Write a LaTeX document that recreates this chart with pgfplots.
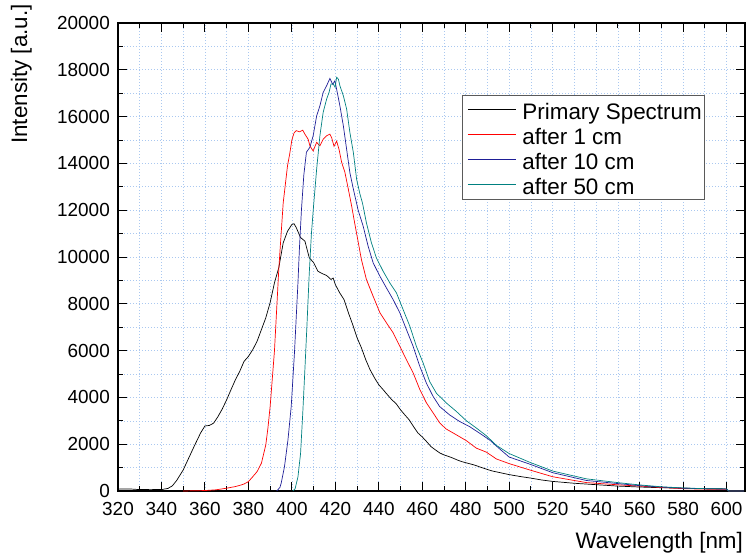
\documentclass[border=0pt]{standalone}
\usepackage{fontspec}
\setmainfont{Liberation Sans}
\usepackage{pgfplots}
\pgfplotsset{compat=1.18}
\definecolor{gridblue}{RGB}{170,200,240}
\definecolor{cred}{RGB}{255,0,0}
\definecolor{c10}{RGB}{30,30,150}
\definecolor{c50}{RGB}{0,128,128}
\definecolor{legframe}{RGB}{90,90,90}
\newcommand{\lstrut}{\rule[-5bp]{0pt}{26bp}}
\begin{document}
\begin{tikzpicture}
\begin{axis}[
 scale only axis, width=627bp, height=468bp,
 xmin=320, xmax=608.5, ymin=0, ymax=20000,
 xtick={320,340,...,600}, ytick={0,2000,...,20000},
 minor x tick num=1, minor y tick num=1,
 tick align=inside,
 major tick length=9bp, minor tick length=5bp,
 tick style={black, line width=0.9bp},
 axis line style={line width=1.3bp},
 grid=both,
 major grid style={gridblue, line width=0.6bp, dash pattern=on 1bp off 2bp},
 minor grid style={gridblue, line width=0.6bp, dash pattern=on 1bp off 2bp},
 scaled y ticks=false, scaled x ticks=false,
 /pgf/number format/assume math mode=true,
 /pgf/number format/1000 sep={},
 tick label style={font=\fontsize{19}{21}\selectfont, inner sep=0pt},
 xticklabel style={yshift=-11bp},
 yticklabel style={xshift=-8bp},
 xlabel={Wavelength [nm]},
 ylabel={Intensity [a.u.]},
 label style={font=\fontsize{22.5}{26}\selectfont, inner sep=0pt},
 xlabel style={at={(axis description cs:0.997,-0.1218)}, anchor=base east},
 ylabel style={at={(axis description cs:-0.1451,1.0406)}, anchor=base east},
 legend style={at={(axis description cs:0.5487,0.846)}, anchor=north west,
   draw=legframe, line width=0.9bp, fill=white,
   font=\fontsize{22.5}{26}\selectfont,
   inner xsep=1bp, inner ysep=3bp, row sep=2.5bp, column sep=4bp,
   nodes={inner xsep=2bp, inner ysep=0pt}},
 legend cell align=left,
 legend image code/.code={\path (0bp,0bp); \draw[#1, line width=1.2bp] (4bp,0bp) -- (52bp,0bp);},
]
\addplot[black, line width=0.7bp] coordinates {
(320,80)(325,90)(330,60)(335,70)(340,60)(343,110)(345,220)(347,450)(350,900)
(352,1300)(355,1900)(358,2480)(360,2780)(362,2800)(364,2900)(366,3180)(368,3510)
(370,3900)(372,4330)(374,4750)(376,5110)(378,5540)(380,5750)(382,6040)(384,6400)
(386,6900)(388,7400)(390,8050)(392,8900)(394,9550)(396,10600)(398,11100)(400,11390)
(401,11420)(402,11260)(404,10830)(406,10680)(408,9970)(410,9760)(412,9390)(414,9290)
(416,9210)(418,9040)(419,9100)(420,8820)(422,8470)(424,8180)(426,7620)(428,7110)
(430,6550)(432,6120)(434,5610)(436,5180)(438,4840)(440,4540)(442,4330)(444,4110)
(446,3900)(448,3730)(450,3470)(452,3250)(454,3040)(456,2750)(458,2480)(460,2310)
(462,2110)(464,1900)(466,1760)(468,1630)(470,1540)(472,1480)(474,1410)(476,1330)
(478,1260)(480,1210)(484,1110)(488,980)(492,860)(496,780)(500,700)(505,620)
(510,550)(515,470)(520,410)(525,370)(530,330)(535,300)(540,270)(545,240)(550,210)
(555,190)(560,170)(570,140)(580,120)(590,100)(600,90)(601,0)(608,0)
};
\addlegendentry{\lstrut Primary Spectrum}
\addplot[cred, line width=0.7bp] coordinates {
(350,0)(355,10)(360,20)(365,50)(370,120)(374,190)(376,240)(378,300)(380,400)
(382,610)(384,830)(386,1190)(388,1970)(389,2700)(390,3610)(391,4800)(392,6000)
(394,9500)(396,12300)(398,13900)(399,14400)(400,15000)(401,15300)(402,15400)
(403.5,15350)(405,15420)(406,15250)(407.5,15030)(408.3,14750)(409.8,14530)
(411.4,14900)(412.9,14750)(414.4,15030)(416,15180)(417.5,15250)(418.3,15100)
(419.4,14730)(420.6,14950)(421.7,14600)(422.9,14050)(424.4,13620)(426,12890)
(427.5,12180)(429,11400)(430.6,10600)(432,9890)(434.3,9040)(437.4,8320)
(440.5,7620)(443.5,7190)(446.6,6760)(449.7,6180)(452.7,5610)(455.8,5050)
(458.9,4330)(461.9,3770)(465,3340)(468,2910)(471,2650)(475.7,2400)(480.3,2150)
(484.9,1830)(489.5,1660)(494.1,1370)(500,1170)(509.4,900)(520,610)(535.5,360)
(550.8,260)(560,210)(570,150)(580,100)(590,80)(600,70)(601,0)(608,0)
};
\addlegendentry{\lstrut after 1 cm}
\addplot[c10, line width=0.7bp] coordinates {
(393,0)(394.5,150)(395.1,340)(396.6,1040)(398.2,2180)(399.7,3610)(401.2,5910)
(402.8,8900)(403.5,10400)(404.4,12000)(405.5,13500)(406.7,14480)(408.3,14690)
(409.8,15180)(411.4,16030)(412.9,16460)(414.4,17030)(416,17320)(417.5,17630)
(418.8,17380)(419.8,17530)(420.6,17170)(422.1,16460)(423.7,15600)(425.2,14600)
(426.7,13600)(428.3,12900)(430.5,12000)(432.8,11320)(435.1,10460)(437.4,9750)
(440.5,9180)(443.5,8680)(446.6,8180)(449.7,7610)(452.7,6900)(455.8,6180)
(458.9,5320)(461.9,4610)(465,4040)(468,3610)(472.6,3250)(477.2,2970)(481.8,2750)
(486.4,2470)(491,2180)(495.6,1800)(500,1450)(509.4,1150)(520.1,780)(535.5,450)
(550.8,310)(560,230)(570,170)(580,120)(590,100)(600,80)(601,0)(608,0)
};
\addlegendentry{\lstrut after 10 cm}
\addplot[c50, line width=0.7bp] coordinates {
(400.5,0)(401.5,100)(402.8,600)(404,1600)(405,3300)(406,5200)(407,7200)(408,9300)
(409,11000)(410,12200)(411.4,13750)(412.9,15180)(414.4,16180)(416,16750)
(417.1,17030)(418,17390)(419.1,17390)(419.9,17250)(420.6,17680)(421.4,17600)
(422.1,17320)(423.7,16890)(425.2,16320)(426.7,15320)(428.3,14460)(429.8,13320)
(431.3,12700)(432.5,12300)(434.3,11460)(436.6,10610)(438.9,9960)(442,9390)
(445.1,8890)(448.1,8470)(451.2,7750)(454.3,7040)(457.3,6180)(460.4,5470)
(463.4,4680)(466.5,4180)(471.1,3760)(475.7,3400)(480.3,3000)(484.9,2690)
(489.5,2360)(494.1,1950)(500,1600)(509.4,1230)(520.1,850)(535.5,520)(550.8,350)
(560,260)(570,180)(580,130)(590,100)(600,90)(601,0)(608,0)
};
\addlegendentry{\lstrut after 50 cm}
\end{axis}
\pgfresetboundingbox
\path (-118bp,-65bp) rectangle (630bp,491bp);
\end{tikzpicture}
\end{document}
